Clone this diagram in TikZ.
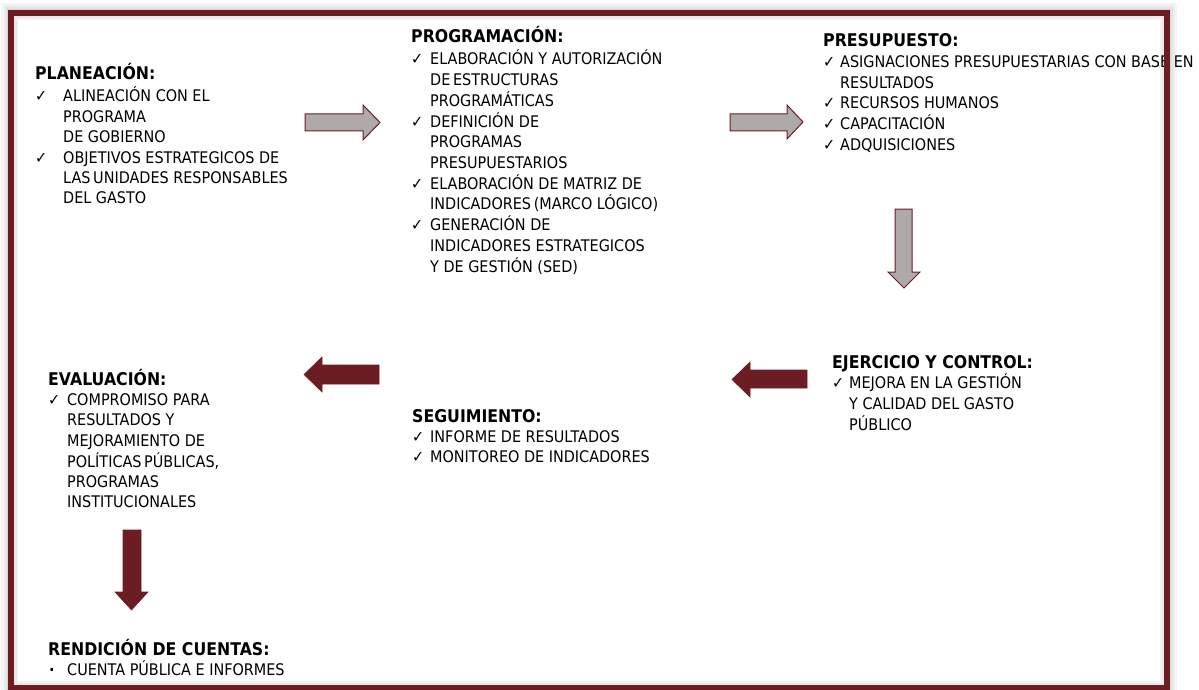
\documentclass[tikz,border=0pt]{standalone}
\usepackage{fontspec}
\setmainfont{DejaVu Sans}[FakeStretch=0.9]
\definecolor{frameRed}{RGB}{108,29,35}
\definecolor{arrowGrey}{RGB}{174,170,170}
% check mark set in a fixed-width slot, and the matching hanging indent
\newcommand{\ckm}[1]{\makebox[#1][l]{✓}}
\newcommand{\bul}[1]{\makebox[#1][l]{\hspace{1pt}\textbf{·}}}
\newcommand{\ind}[1]{\hspace*{#1}}
\newcommand{\hd}[1]{{\fontsize{17.5}{20.4}\selectfont\bfseries #1}}
\tikzset{
  block/.style={anchor=base west, inner sep=0pt, font=\fontsize{16}{20.4}\selectfont},
  greyarrow/.style={fill=arrowGrey, draw=frameRed, line width=1pt, line join=miter},
  redarrow/.style={fill=frameRed, draw=frameRed, line width=0.6pt, line join=miter},
}
\begin{document}
\begin{tikzpicture}[x=1pt,y=-1pt]
\useasboundingbox (0,0) rectangle (1199,690);
\fill[white] (0,0) rectangle (1199,690);

% soft shadow around the frame
\foreach \w/\c in {20/4,15/7,11/11,8/16}
  \draw[line width=\w pt, black!\c] (11,13) rectangle (1167,688);
\fill[white] (17,19) rectangle (1161,682);
\foreach \w/\c in {8/5,5/9}
  \draw[line width=\w pt, black!\c] (14,16) rectangle (1164,685);

% block arrows between the stages
\draw[greyarrow] (305,114) -- (363,114) -- (363,105) -- (380,122.5) -- (363,140) -- (363,131) -- (305,131) -- cycle;
\draw[greyarrow] (730,114) -- (787,114) -- (787,105) -- (803,122) -- (787,139) -- (787,131) -- (730,131) -- cycle;
\draw[greyarrow] (895,209) -- (912,209) -- (912,272) -- (920,272) -- (904,288) -- (888,272) -- (895,272) -- cycle;
\draw[redarrow] (807,370) -- (750,370) -- (750,362) -- (732,379.5) -- (750,397) -- (750,388) -- (807,388) -- cycle;
\draw[redarrow] (379,365) -- (322,365) -- (322,357) -- (304,374.5) -- (322,392) -- (322,384) -- (379,384) -- cycle;
\draw[redarrow] (123,530) -- (141,530) -- (141,592) -- (148,592) -- (131.5,610) -- (115,592) -- (123,592) -- cycle;

% stage texts
\node[block] (plan) at (35,80) {\begin{tabular}[t]{@{}l@{}}
\hd{PLANEACIÓN:}\\[1pt]
\ckm{28pt}ALINEACIÓN CON EL\\
\ind{28pt}PROGRAMA\\
\ind{28pt}DE GOBIERNO\\
\ckm{28pt}OBJETIVOS ESTRATEGICOS DE\\
\ind{28pt}LAS\,UNIDADES RESPONSABLES\\
\ind{28pt}DEL GASTO
\end{tabular}};

\node[block] (prog) at (411,43) {\begin{tabular}[t]{@{}l@{}}
\hd{PROGRAMACIÓN:}\\[1pt]
\ckm{19pt}ELABORACIÓN Y AUTORIZACIÓN\\
\ind{19pt}DE\,ESTRUCTURAS\\
\ind{19pt}PROGRAMÁTICAS\\
\ckm{19pt}DEFINICIÓN DE\\
\ind{19pt}PROGRAMAS\\
\ind{19pt}PRESUPUESTARIOS\\
\ckm{19pt}ELABORACIÓN DE MATRIZ DE\\
\ind{19pt}INDICADORES\,(MARCO LÓGICO)\\
\ckm{19pt}GENERACIÓN DE\\
\ind{19pt}INDICADORES ESTRATEGICOS\\
\ind{19pt}Y DE GESTIÓN (SED)
\end{tabular}};

\node[block] (pres) at (823,47) {\begin{tabular}[t]{@{}l@{}}
\hd{PRESUPUESTO:}\\[0.5pt]
\ckm{17pt}ASIGNACIONES PRESUPUESTARIAS CON BASE EN\\
\ind{17pt}RESULTADOS\\
\ckm{17pt}RECURSOS HUMANOS\\
\ckm{17pt}CAPACITACIÓN\\
\ckm{17pt}ADQUISICIONES
\end{tabular}};

\node[block] (ejer) at (832,368) {\begin{tabular}[t]{@{}l@{}}
\hd{EJERCICIO Y CONTROL:}\\
\ckm{17pt}MEJORA EN LA GESTIÓN\\
\ind{17pt}Y CALIDAD DEL GASTO\\
\ind{17pt}PÚBLICO
\end{tabular}};

\node[block] (seg) at (412,422) {\begin{tabular}[t]{@{}l@{}}
\hd{SEGUIMIENTO:}\\
\ckm{18pt}INFORME DE RESULTADOS\\
\ckm{18pt}MONITOREO DE INDICADORES
\end{tabular}};

\node[block] (eval) at (48,385) {\begin{tabular}[t]{@{}l@{}}
\hd{EVALUACIÓN:}\\
\ckm{19pt}COMPROMISO PARA\\
\ind{19pt}RESULTADOS Y\\
\ind{19pt}MEJORAMIENTO DE\\
\ind{19pt}POLÍTICAS\,PÚBLICAS,\\
\ind{19pt}PROGRAMAS\\
\ind{19pt}INSTITUCIONALES
\end{tabular}};

\node[block] (rend) at (48,655) {\begin{tabular}[t]{@{}l@{}}
\hd{RENDICIÓN DE CUENTAS:}\\
\bul{19pt}CUENTA PÚBLICA E INFORMES
\end{tabular}};

% frame drawn last, over the text
\draw[frameRed, line width=5.5pt] (11,13) rectangle (1167,688);
\end{tikzpicture}
\end{document}
